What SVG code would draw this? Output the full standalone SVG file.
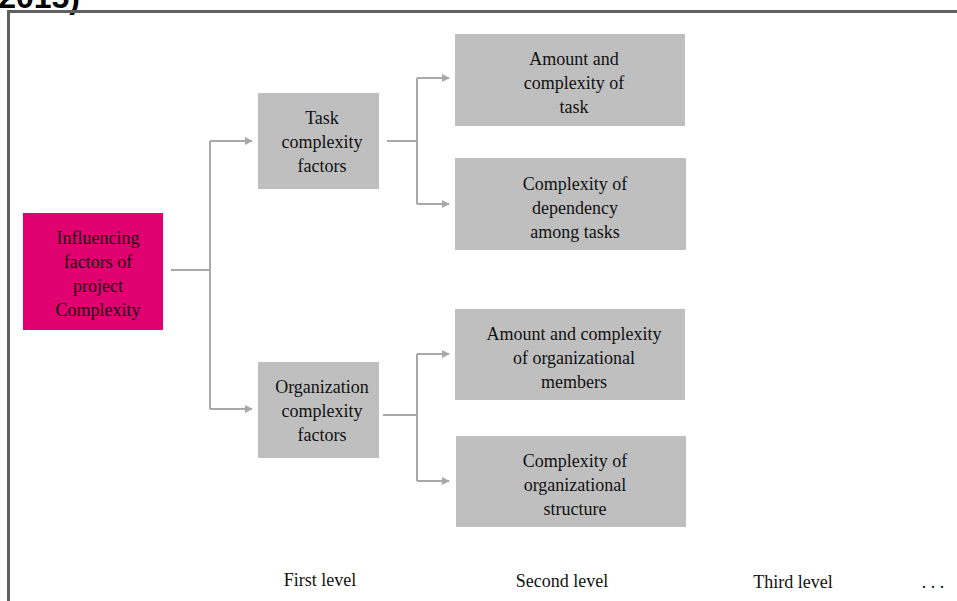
<svg xmlns="http://www.w3.org/2000/svg" width="957" height="601" viewBox="0 0 957 601">
  <defs>
    <marker id="arrow" viewBox="0 0 10 10" refX="9" refY="5" markerWidth="8" markerHeight="8" markerUnits="userSpaceOnUse" orient="auto">
      <path d="M0,0 L10,5 L0,10 z" fill="#a8a8a8"/>
    </marker>
  </defs>
  <style>
    .box { fill: #bfbfbf; }
    .root { fill: #e0006f; }
    .lbl { font-family: "Liberation Serif", "DejaVu Serif", serif; font-size: 18px; fill: #111; text-anchor: middle; }
    .lvl { font-family: "Liberation Serif", "DejaVu Serif", serif; font-size: 18px; fill: #111; text-anchor: middle; }
    .conn { fill: none; stroke: #a8a8a8; stroke-width: 2; }
  </style>
  <rect width="957" height="601" fill="#fff"/>
  <!-- clipped caption above the frame -->
  <text x="80" y="8" text-anchor="end" font-family="Liberation Sans, Arial, sans-serif" font-weight="bold" font-size="32" fill="#000">2015)</text>
  <!-- outer frame -->
  <path d="M8.5,601 V11.5 H957" fill="none" stroke="#606060" stroke-width="3"/>

  <g id="connectors">
    <path class="conn" d="M171,270 H210"/>
    <path class="conn" d="M210,141 V409"/>
    <path class="conn" d="M210,141 H252" marker-end="url(#arrow)"/>
    <path class="conn" d="M210,409 H252" marker-end="url(#arrow)"/>
    <path class="conn" d="M387,141 H417"/>
    <path class="conn" d="M417,78 V204"/>
    <path class="conn" d="M417,78 H449" marker-end="url(#arrow)"/>
    <path class="conn" d="M417,204 H449" marker-end="url(#arrow)"/>
    <path class="conn" d="M383,415 H418"/>
    <path class="conn" d="M417,354 V481"/>
    <path class="conn" d="M417,354 H449" marker-end="url(#arrow)"/>
    <path class="conn" d="M417,481 H449" marker-end="url(#arrow)"/>
  </g>

  <g id="root">
    <rect class="root" x="23" y="213" width="140" height="117"/>
    <text class="lbl" x="98"><tspan x="98" y="244">Influencing</tspan><tspan x="98" y="268">factors of</tspan><tspan x="98" y="292">project</tspan><tspan x="98" y="316">Complexity</tspan></text>
  </g>
  <g id="task">
    <rect class="box" x="258" y="93" width="121" height="96"/>
    <text class="lbl"><tspan x="322" y="124">Task</tspan><tspan x="322" y="148">complexity</tspan><tspan x="322" y="172">factors</tspan></text>
  </g>
  <g id="org">
    <rect class="box" x="258" y="362" width="121" height="96"/>
    <text class="lbl"><tspan x="322" y="393">Organization</tspan><tspan x="322" y="417">complexity</tspan><tspan x="322" y="441">factors</tspan></text>
  </g>
  <g id="task-amount">
    <rect class="box" x="455" y="34" width="230" height="92"/>
    <text class="lbl"><tspan x="574" y="65">Amount and</tspan><tspan x="574" y="89">complexity of</tspan><tspan x="574" y="113">task</tspan></text>
  </g>
  <g id="task-dependency">
    <rect class="box" x="455" y="158" width="231" height="92"/>
    <text class="lbl"><tspan x="575" y="190">Complexity of</tspan><tspan x="575" y="214">dependency</tspan><tspan x="575" y="238">among tasks</tspan></text>
  </g>
  <g id="org-members">
    <rect class="box" x="455" y="309" width="230" height="91"/>
    <text class="lbl"><tspan x="574" y="340">Amount and complexity</tspan><tspan x="574" y="364">of organizational</tspan><tspan x="574" y="388">members</tspan></text>
  </g>
  <g id="org-structure">
    <rect class="box" x="456" y="436" width="230" height="91"/>
    <text class="lbl"><tspan x="575" y="467">Complexity of</tspan><tspan x="575" y="491">organizational</tspan><tspan x="575" y="515">structure</tspan></text>
  </g>

  <g id="levels">
    <text class="lvl" x="320" y="586">First level</text>
    <text class="lvl" x="562" y="587">Second level</text>
    <text class="lvl" x="793" y="588">Third level</text>
    <text class="lvl" x="933" y="588">. . .</text>
  </g>
</svg>
